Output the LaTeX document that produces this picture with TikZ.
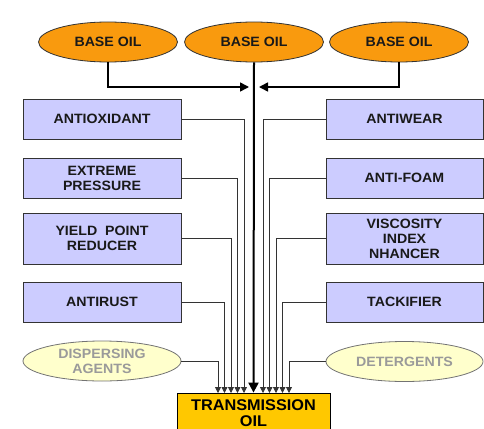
\documentclass[tikz,border=0pt]{standalone}
\usepackage{fontspec}
\setmainfont{Liberation Sans}[FakeStretch=1.05]
\usetikzlibrary{shapes.geometric,arrows.meta}
\definecolor{oilorange}{HTML}{F99A0E}
\definecolor{lav}{HTML}{CCCCFF}
\definecolor{paley}{HTML}{FFFFCC}
\definecolor{gold}{HTML}{FFC800}
\definecolor{txtgray}{HTML}{9A9A9A}
\definecolor{linegray}{HTML}{333333}
\tikzset{
  baseoil/.style={ellipse,draw=linegray,line width=0.8pt,fill=oilorange,minimum width=139pt,minimum height=40pt,inner sep=0pt,font=\fontsize{13.5}{15}\selectfont\bfseries,text=black!90},
  addbox/.style={rectangle,draw=linegray,line width=0.8pt,fill=lav,minimum width=158pt,minimum height=40pt,inner sep=0pt,align=center,font=\fontsize{13.5}{15}\selectfont\bfseries,text=black!90},
  agent/.style={ellipse,draw=black!55,line width=0.8pt,fill=paley,minimum width=158pt,minimum height=40pt,inner sep=0pt,align=center,font=\fontsize{13.5}{15}\selectfont\bfseries,text=txtgray},
  transbox/.style={rectangle,draw=black,line width=0.8pt,fill=gold,minimum width=153pt,minimum height=40pt,inner sep=0pt,align=center,font=\fontsize{15.5}{15.5}\selectfont\bfseries},
  conn/.style={draw=linegray,line width=0.8pt,-{Triangle[length=6pt,width=6pt]}},
  feed/.style={draw=black,line width=1.6pt,-{Triangle[length=9pt,width=9pt]}},
  mainline/.style={draw=black,line width=2pt,-{Triangle[length=10pt,width=10pt]}}
}
\begin{document}
\begin{tikzpicture}[x=1pt,y=-1pt]
\useasboundingbox (0,0) rectangle (484,428);
% base oils
\node[baseoil] (b1) at (108,42) {BASE OIL};
\node[baseoil] (b2) at (254,42) {BASE OIL};
\node[baseoil] (b3) at (399,42) {BASE OIL};
% left additives
\node[addbox] (ao) at (102,119) {ANTIOXIDANT};
\node[addbox] (ep) at (102,178) {EXTREME\\PRESSURE};
\node[addbox,minimum height=51pt] (yp) at (102,238.5) {YIELD\ \ POINT\\REDUCER};
\node[addbox] (ar) at (102,302) {ANTIRUST};
% right additives
\node[addbox,minimum width=157pt] (aw) at (404.5,119) {ANTIWEAR};
\node[addbox,minimum width=157pt] (af) at (404.5,178) {ANTI-FOAM};
\node[addbox,minimum width=157pt,minimum height=51pt] (vi) at (404.5,238.5) {VISCOSITY\\INDEX\\NHANCER};
\node[addbox,minimum width=157pt] (tk) at (404.5,302) {TACKIFIER};
% agents
\node[agent] (da) at (102,361) {DISPERSING\\AGENTS};
\node[agent,minimum width=157pt] (dt) at (404.5,361.5) {DETERGENTS};
% transmission oil
\node[transbox] (tr) at (253.5,413) {TRANSMISSION\\OIL};
% endpoints
\coordinate (jl) at (249,87);
\coordinate (jr) at (259,87);
\coordinate (e1) at (218,393);
\coordinate (e2) at (224.5,393);
\coordinate (e3) at (231,393);
\coordinate (e4) at (237.5,393);
\coordinate (e5) at (244,393);
\coordinate (f1) at (263,393);
\coordinate (f2) at (269.5,393);
\coordinate (f3) at (276,393);
\coordinate (f4) at (282.5,393);
\coordinate (f5) at (289,393);
% feeds
\draw[feed] (b1.south) |- (jl);
\draw[feed] (b3.south) |- (jr);
\draw[mainline] (b2.south) -- (tr.north);
% connectors
\draw[conn] (ao.east) -| (e5);
\draw[conn] (ep.east) -| (e4);
\draw[conn] (yp.east) -| (e3);
\draw[conn] (ar.east) -| (e2);
\draw[conn] (da.east) -| (e1);
\draw[conn] (aw.west) -| (f1);
\draw[conn] (af.west) -| (f2);
\draw[conn] (vi.west) -| (f3);
\draw[conn] (tk.west) -| (f4);
\draw[conn] (dt.west) -| (f5);
\end{tikzpicture}
\end{document}
